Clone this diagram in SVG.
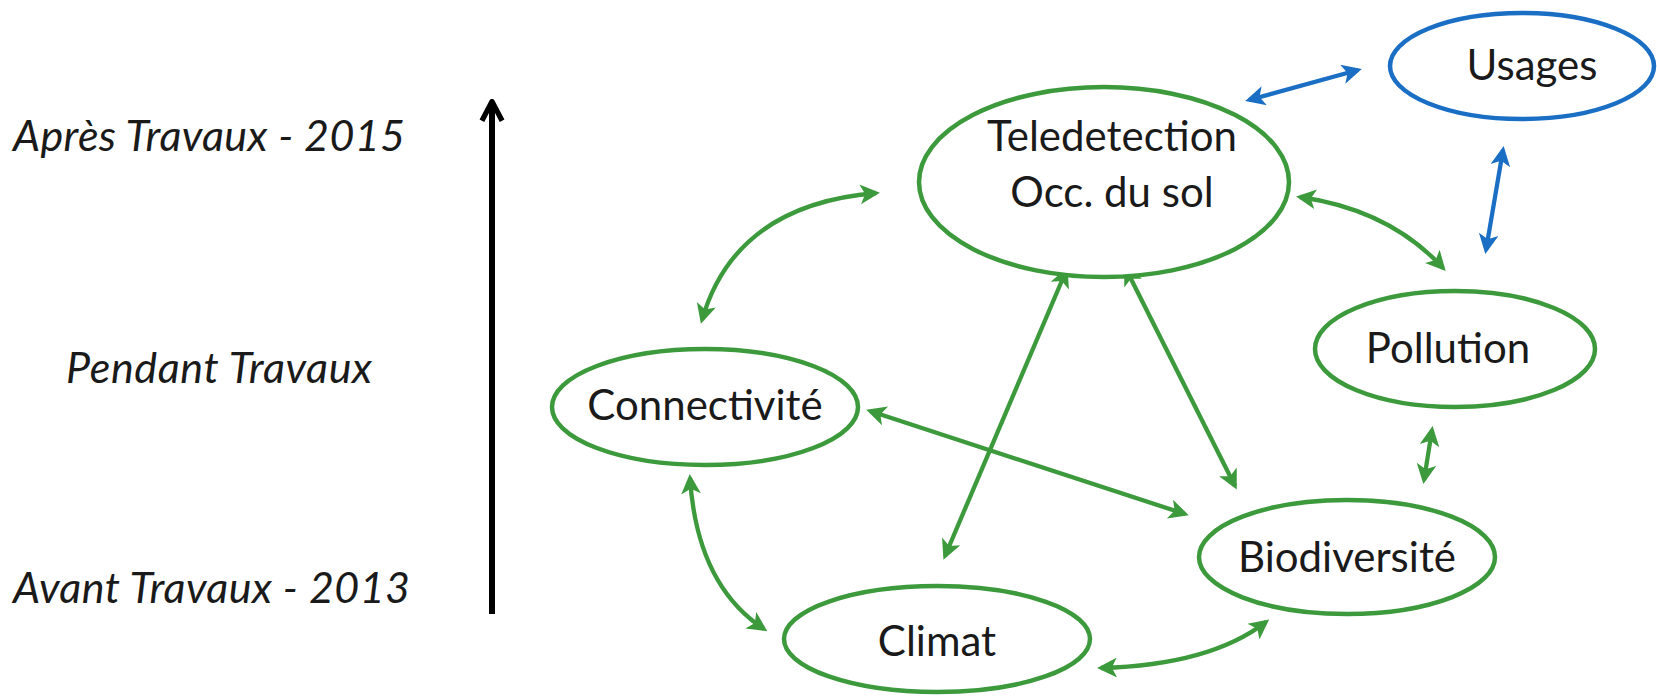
<svg xmlns="http://www.w3.org/2000/svg" width="1657" height="696" viewBox="0 0 1657 696">
<style>
.g{fill:none;stroke:#3c9a3c;stroke-width:4.3}
.b{fill:none;stroke:#1a6fc4;stroke-width:4.3}
.ge{fill:#fff;stroke:#3c9a3c;stroke-width:4.5}
.be{fill:#fff;stroke:#1a6fc4;stroke-width:4.5}
.t{font-family:Lato,"Open Sans","Liberation Sans",sans-serif;font-size:42px;fill:#1a1a1a;text-anchor:middle}
.l{font-family:Lato,"Open Sans","Liberation Sans",sans-serif;font-size:43px;font-style:italic;fill:#1a1a1a}
</style>
<defs>
<marker id="ag" viewBox="0 0 10 10" refX="8" refY="5" markerWidth="5.4" markerHeight="4.6" orient="auto-start-reverse" markerUnits="strokeWidth"><path d="M0,0 L10,5 L0,10 L2.5,5 z" fill="#3c9a3c"/></marker>
<marker id="ab" viewBox="0 0 10 10" refX="8" refY="5" markerWidth="5.4" markerHeight="4.6" orient="auto-start-reverse" markerUnits="strokeWidth"><path d="M0,0 L10,5 L0,10 L2.5,5 z" fill="#1a6fc4"/></marker>
<marker id="ak" viewBox="0 0 10 10" refX="8" refY="5" markerWidth="4" markerHeight="4.4" orient="auto" markerUnits="strokeWidth"><path d="M1,0.8 L9,5 L1,9.2" fill="none" stroke="#000" stroke-width="2.2" stroke-linejoin="round"/></marker>
</defs>
<g id="timeline">
<text class="l" x="13" y="151" textLength="392">Après Travaux - 2015</text>
<text class="l" x="66" y="383" textLength="306">Pendant Travaux</text>
<text class="l" x="13" y="603" textLength="397">Avant Travaux - 2013</text>
<line x1="492" y1="614" x2="492" y2="104" stroke="#000" stroke-width="6" marker-end="url(#ak)"/>
</g>
<g id="connectors">
<line class="b" x1="1249" y1="100" x2="1358" y2="70" marker-start="url(#ab)" marker-end="url(#ab)"/>
<line class="b" x1="1503" y1="150" x2="1486" y2="250" marker-start="url(#ab)" marker-end="url(#ab)"/>
<path class="g" d="M1300,197 Q1390,210 1443,268" marker-start="url(#ag)" marker-end="url(#ag)"/>
<path class="g" d="M876,193 Q735,205 702,320" marker-start="url(#ag)" marker-end="url(#ag)"/>
<path class="g" d="M690,478 Q697,585 764,629" marker-start="url(#ag)" marker-end="url(#ag)"/>
<path class="g" d="M1101,668 Q1210,665 1266,622" marker-start="url(#ag)" marker-end="url(#ag)"/>
<line class="g" x1="1432" y1="430" x2="1424" y2="480" marker-start="url(#ag)" marker-end="url(#ag)"/>
<line class="g" x1="1066" y1="271" x2="945" y2="556" marker-start="url(#ag)" marker-end="url(#ag)"/>
<line class="g" x1="1126" y1="269" x2="1235" y2="486" marker-start="url(#ag)" marker-end="url(#ag)"/>
<line class="g" x1="870" y1="411" x2="1185" y2="514" stroke-width="5" marker-start="url(#ag)" marker-end="url(#ag)"/>
</g>
<g id="teledetection">
<ellipse class="ge" cx="1104" cy="182" rx="185" ry="95"/>
<text class="t" x="1112" y="151">Teledetection</text>
<text class="t" x="1112" y="207">Occ. du sol</text>
</g>
<g id="usages">
<ellipse class="be" cx="1522" cy="66" rx="132" ry="53"/>
<text class="t" x="1532" y="80">Usages</text>
</g>
<g id="pollution">
<ellipse class="ge" cx="1455" cy="349" rx="140" ry="58"/>
<text class="t" x="1448" y="363">Pollution</text>
</g>
<g id="connectivite">
<ellipse class="ge" cx="705" cy="407" rx="153" ry="58"/>
<text class="t" x="705" y="420">Connectivité</text>
</g>
<g id="biodiversite">
<ellipse class="ge" cx="1347" cy="557" rx="148" ry="57"/>
<text class="t" x="1347" y="572">Biodiversité</text>
</g>
<g id="climat">
<ellipse class="ge" cx="937" cy="639" rx="153" ry="53"/>
<text class="t" x="937" y="656">Climat</text>
</g>
</svg>
